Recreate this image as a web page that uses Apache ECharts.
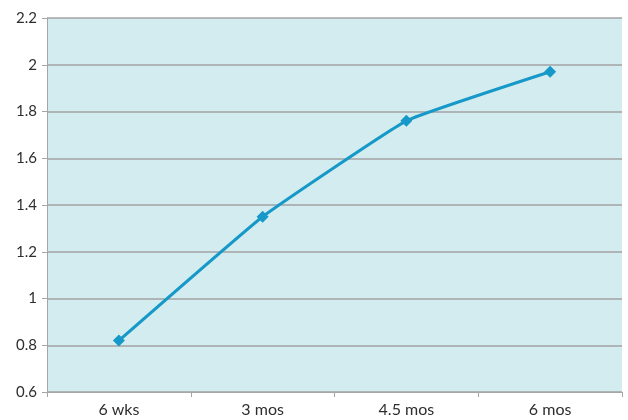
<!DOCTYPE html>
<html>
<head>
<meta charset="utf-8">
<script src="https://cdn.jsdelivr.net/npm/echarts@6/dist/echarts.min.js"></script>
<style>
  html, body { margin: 0; padding: 0; background: #ffffff; }
  #chart { width: 628px; height: 420px; }
</style>
</head>
<body>
<div id="chart"></div>
<script>
// Measurement periods along the x axis
const categories = ['6 wks', '3 mos', '4.5 mos', '6 mos'];
// Measured values per period
const values = [0.82, 1.35, 1.76, 1.97];
// Value axis range
const yMin = 0.6;
const yMax = 2.2;
const yStep = 0.2;

const chart = echarts.init(document.getElementById('chart'));
const font = 'Lato, "Open Sans", sans-serif';

chart.setOption({
  animation: false,
  grid: {
    left: 47, right: 6, top: 18, bottom: 28,
    show: true,
    backgroundColor: '#d3ecef',
    borderWidth: 0
  },
  xAxis: {
    type: 'category',
    data: categories,
    boundaryGap: true,
    axisLine: { show: true, lineStyle: { color: '#a6a6a6', width: 1 } },
    axisTick: { show: true, alignWithLabel: false, length: 5, lineStyle: { color: '#a6a6a6' } },
    axisLabel: { color: '#2e2e2e', fontFamily: font, fontSize: 16, margin: 10 },
    splitLine: { show: false }
  },
  yAxis: {
    type: 'value',
    min: yMin,
    max: yMax,
    interval: yStep,
    axisLine: { show: true, lineStyle: { color: '#a6a6a6', width: 1 } },
    axisTick: { show: true, length: 5, lineStyle: { color: '#a6a6a6' } },
    axisLabel: {
      color: '#2e2e2e', fontFamily: font, fontSize: 15, margin: 10,
      formatter: v => String(parseFloat(v.toFixed(1)))
    },
    splitLine: { show: true, lineStyle: { color: '#a3a3a3', width: 1.5 } }
  },
  series: [{
    type: 'line',
    data: values,
    smooth: 0.1,
    symbol: 'diamond',
    symbolSize: 12,
    lineStyle: { color: '#1699c9', width: 3 },
    itemStyle: { color: '#1699c9' }
  }]
});
</script>
</body>
</html>
